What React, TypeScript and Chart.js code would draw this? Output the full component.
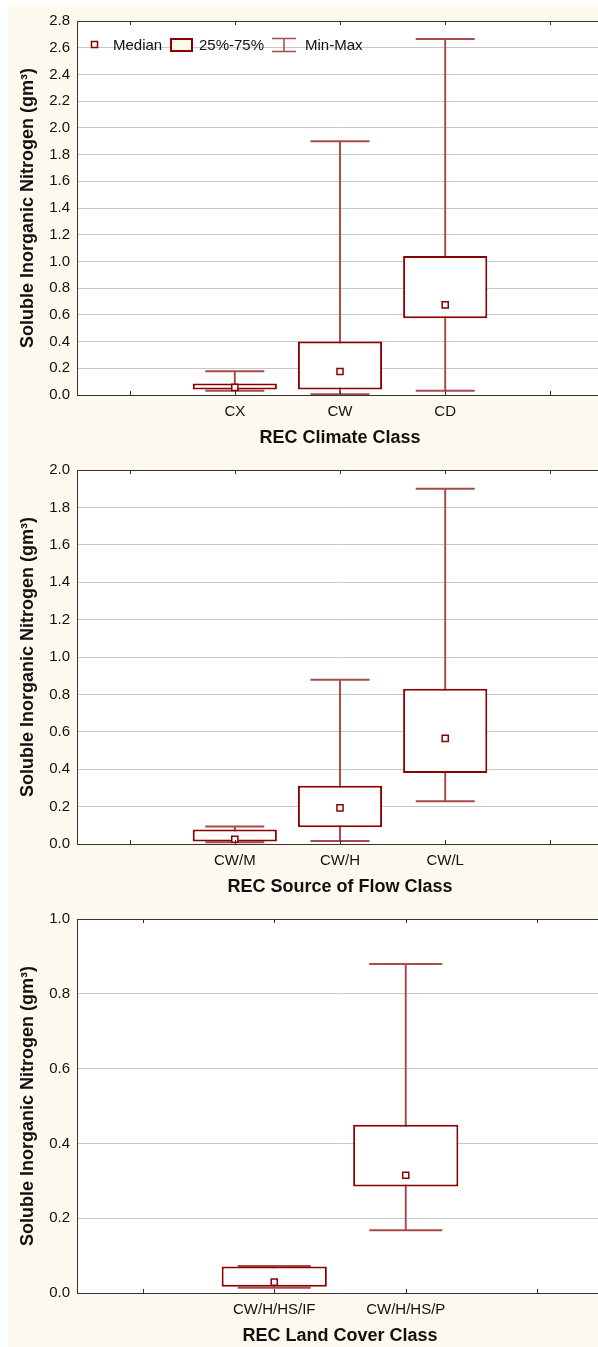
import React, { useEffect, useRef } from "react";
import { Chart, registerables } from "chart.js";
Chart.register(...registerables);

// ---------- data ----------
const climateCats = ["", "CX", "CW", "CD", ""];
const climateMin = [null, 0.032, 0.005, 0.032, null];
const climateQ1 = [null, 0.042, 0.042, 0.575, null];
const climateMed = [null, 0.057, 0.176, 0.675, null];
const climateQ3 = [null, 0.087, 0.401, 1.04, null];
const climateMax = [null, 0.178, 1.9, 2.665, null];

const flowCats = ["", "CW/M", "CW/H", "CW/L", ""];
const flowMin = [null, 0.01, 0.016, 0.228, null];
const flowQ1 = [null, 0.014, 0.09, 0.38, null];
const flowMed = [null, 0.025, 0.193, 0.565, null];
const flowQ3 = [null, 0.078, 0.311, 0.83, null];
const flowMax = [null, 0.094, 0.879, 1.9, null];

const landCats = ["", "CW/H/HS/IF", "CW/H/HS/P", ""];
const landMin = [null, 0.014, 0.168, null];
const landQ1 = [null, 0.017, 0.285, null];
const landMed = [null, 0.029, 0.315, null];
const landQ3 = [null, 0.071, 0.45, null];
const landMax = [null, 0.072, 0.88, null];

const yTitle = "Soluble Inorganic Nitrogen (gm³)";
const legendLabels = ["Median", "25%-75%", "Min-Max"];

// ---------- style ----------
const FONT = "'Liberation Sans', Arial, Helvetica, sans-serif";
const BOX = "#8b0000";
const WHISK = "#a94a4a";
const CREAM = "#fdf9ee";
const CW = 595;
const CH = 449;

const plotBg = {
  id: "plotBg",
  beforeDraw(chart: any) {
    const { ctx, chartArea: a } = chart;
    ctx.save();
    ctx.fillStyle = "#ffffff";
    ctx.fillRect(a.left, a.top, a.right - a.left, a.bottom - a.top);
    ctx.restore();
  },
};

const frame = {
  id: "frame",
  afterDraw(chart: any) {
    const { ctx, chartArea: a } = chart;
    const xs = chart.scales.x;
    ctx.save();
    ctx.strokeStyle = "#333333";
    ctx.lineWidth = 1;
    ctx.beginPath();
    ctx.moveTo(a.left, a.top + 0.5);
    ctx.lineTo(a.right, a.top + 0.5);
    const n = chart.data.labels.length;
    for (let i = 0; i < n; i++) {
      const x = Math.round(xs.getPixelForValue(i)) + 0.5;
      ctx.moveTo(x, a.bottom);
      ctx.lineTo(x, a.bottom - 4);
      ctx.moveTo(x, a.top);
      ctx.lineTo(x, a.top + 4);
    }
    ctx.stroke();
    ctx.restore();
  },
};

const legendPlugin = {
  id: "boxLegend",
  afterDraw(chart: any) {
    const { ctx } = chart;
    const cy = 39.5;
    ctx.save();
    ctx.font = `15px ${FONT}`;
    ctx.textBaseline = "middle";
    // median marker
    ctx.fillStyle = "#fff";
    ctx.fillRect(83.5, cy - 3, 6, 6);
    ctx.strokeStyle = BOX;
    ctx.lineWidth = 1.5;
    ctx.strokeRect(83.5, cy - 3, 6, 6);
    ctx.fillStyle = "#111";
    ctx.fillText(legendLabels[0], 105, cy + 1);
    // box
    ctx.fillStyle = CREAM;
    ctx.fillRect(163, 34, 21, 12);
    ctx.strokeStyle = BOX;
    ctx.lineWidth = 2;
    ctx.strokeRect(163, 34, 21, 12);
    ctx.fillStyle = "#111";
    ctx.fillText(legendLabels[1], 191, cy + 1);
    // whisker
    ctx.strokeStyle = WHISK;
    ctx.lineWidth = 1.5;
    ctx.beginPath();
    ctx.moveTo(264, 33.5);
    ctx.lineTo(288, 33.5);
    ctx.moveTo(264, 46.5);
    ctx.lineTo(288, 46.5);
    ctx.moveTo(276, 33.5);
    ctx.lineTo(276, 46.5);
    ctx.stroke();
    ctx.fillStyle = "#111";
    ctx.fillText(legendLabels[2], 297, cy + 1);
    ctx.restore();
  },
};

type PanelProps = {
  cats: string[];
  mins: (number | null)[];
  q1: (number | null)[];
  med: (number | null)[];
  q3: (number | null)[];
  maxs: (number | null)[];
  yMax: number;
  xTitle: string;
  capR: number;
  legend?: boolean;
};

function Panel(p: PanelProps) {
  const ref = useRef<HTMLCanvasElement>(null);
  useEffect(() => {
    if (!ref.current) return;
    const boxes = p.q1.map((v, i) => (v == null ? null : [v, p.q3[i]]));
    const whisk = p.mins.map((v, i) => (v == null ? null : [v, p.maxs[i]]));
    const chart = new Chart(ref.current, {
      type: "bar",
      data: {
        labels: p.cats,
        datasets: [
          {
            type: "line",
            label: "Median",
            data: p.med as any,
            showLine: false,
            pointStyle: "rect",
            pointRadius: 4.3,
            pointBorderWidth: 1.5,
            pointBackgroundColor: "#ffffff",
            pointBorderColor: BOX,
            order: 0,
          },
          {
            type: "bar",
            label: "25%-75%",
            data: boxes as any,
            backgroundColor: "#ffffff",
            borderColor: BOX,
            borderWidth: 2,
            borderSkipped: false,
            barPercentage: 0.8,
            categoryPercentage: 1,
            grouped: false,
            order: 1,
          },
          {
            type: "line",
            label: "Max",
            data: p.maxs as any,
            showLine: false,
            pointStyle: "line",
            pointRadius: p.capR,
            pointBorderWidth: 2,
            pointBorderColor: WHISK,
            order: 2,
          },
          {
            type: "line",
            label: "Min",
            data: p.mins as any,
            showLine: false,
            pointStyle: "line",
            pointRadius: p.capR,
            pointBorderWidth: 2,
            pointBorderColor: WHISK,
            order: 2,
          },
          {
            type: "bar",
            label: "Min-Max",
            data: whisk as any,
            backgroundColor: WHISK,
            borderWidth: 0,
            barThickness: 1.3,
            grouped: false,
            order: 3,
          },
        ],
      },
      options: {
        animation: false,
        responsive: false,
        devicePixelRatio: 1,
        layout: { autoPadding: false, padding: { top: 13, left: 0, right: 0, bottom: 0 } },
        plugins: { legend: { display: false }, tooltip: { enabled: false } },
        scales: {
          x: {
            type: "category",
            offset: true,
            grid: { display: true, drawOnChartArea: false, drawTicks: false, offset: false },
            border: { display: true, color: "#333333", width: 1 },
            ticks: { color: "#111", padding: 8, font: { family: FONT, size: 15 } },
            title: {
              display: true,
              text: p.xTitle,
              color: "#111",
              font: { family: FONT, size: 18, weight: "bold" },
              padding: { top: 0, bottom: 5 },
            },
            afterFit(s: any) {
              s.height = CH - 13 - 377;
            },
          },
          y: {
            type: "linear",
            min: 0,
            max: p.yMax,
            ticks: {
              stepSize: 0.2,
              color: "#111",
              padding: 7,
              font: { family: FONT, size: 15 },
              callback: (v: any) => Number(v).toFixed(1),
            },
            grid: { color: "#c8c8c8", lineWidth: 1, drawTicks: false },
            border: { display: true, color: "#333333", width: 1 },
            title: {
              display: true,
              text: yTitle,
              color: "#111",
              font: { family: FONT, size: 18, weight: "bold" },
              padding: { top: 9, bottom: 0 },
            },
            afterFit(s: any) {
              s.width = 69;
            },
          },
        },
      } as any,
      plugins: p.legend ? [plotBg, frame, legendPlugin] : [plotBg, frame],
    });
    return () => chart.destroy();
  }, []);
  return (
    <div style={{ width: CW, height: CH }}>
      <canvas ref={ref} width={CW} height={CH} style={{ display: "block" }} />
    </div>
  );
}

export default function App() {
  return (
    <div
      style={{
        position: "absolute",
        left: 8,
        top: 5,
        width: 590,
        height: 1342,
        overflow: "hidden",
        background: CREAM,
      }}
    >
      <Panel
        cats={climateCats}
        mins={climateMin}
        q1={climateQ1}
        med={climateMed}
        q3={climateQ3}
        maxs={climateMax}
        yMax={2.8}
        xTitle="REC Climate Class"
        capR={29.5}
        legend
      />
      <Panel
        cats={flowCats}
        mins={flowMin}
        q1={flowQ1}
        med={flowMed}
        q3={flowQ3}
        maxs={flowMax}
        yMax={2.0}
        xTitle="REC Source of Flow Class"
        capR={29.5}
      />
      <Panel
        cats={landCats}
        mins={landMin}
        q1={landQ1}
        med={landMed}
        q3={landQ3}
        maxs={landMax}
        yMax={1.0}
        xTitle="REC Land Cover Class"
        capR={36.5}
      />
    </div>
  );
}
